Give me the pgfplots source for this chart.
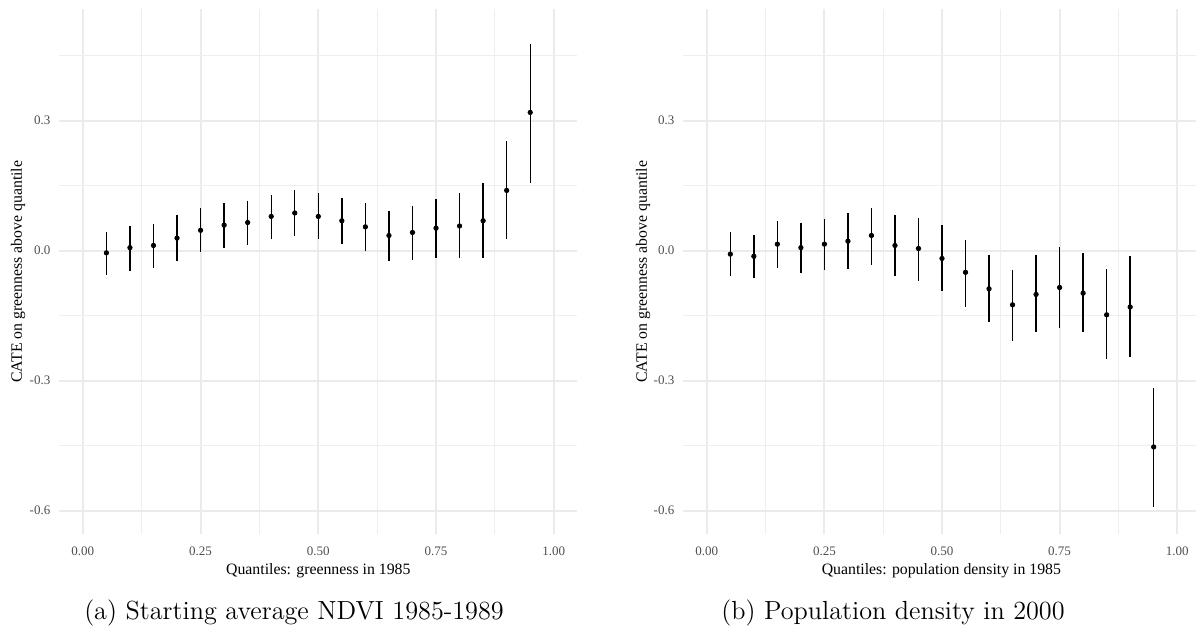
\documentclass[border=0pt]{standalone}
\usepackage{pgfplots}
\usepackage{pgfplotstable}
\usepackage{fontspec}
\pgfplotsset{compat=1.18}
\newfontfamily\ggfont{Liberation Serif}
\definecolor{gridmaj}{HTML}{EBEBEB}
\definecolor{gridmin}{HTML}{EEEEEE}
\definecolor{ticktxt}{HTML}{4D4D4D}

% quantile, estimate, lower and upper bound of the interval
\pgfplotstableread{
q     est     lo      hi
0.05 -0.005  -0.056   0.044
0.10  0.007  -0.046   0.056
0.15  0.012  -0.041   0.062
0.20  0.029  -0.023   0.082
0.25  0.047  -0.003   0.098
0.30  0.059   0.007   0.109
0.35  0.065   0.012   0.114
0.40  0.079   0.027   0.129
0.45  0.087   0.035   0.139
0.50  0.079   0.027   0.132
0.55  0.069   0.015   0.122
0.60  0.055   0.000   0.109
0.65  0.035  -0.023   0.092
0.70  0.042  -0.021   0.102
0.75  0.052  -0.016   0.119
0.80  0.057  -0.018   0.132
0.85  0.069  -0.018   0.156
0.90  0.139   0.027   0.252
0.95  0.319   0.157   0.478
}\ndvitable

\pgfplotstableread{
q     est     lo      hi
0.05 -0.008  -0.058   0.042
0.10 -0.013  -0.063   0.036
0.15  0.015  -0.041   0.069
0.20  0.007  -0.051   0.064
0.25  0.015  -0.045   0.074
0.30  0.022  -0.043   0.086
0.35  0.035  -0.033   0.098
0.40  0.012  -0.058   0.082
0.45  0.005  -0.071   0.076
0.50 -0.018  -0.093   0.059
0.55 -0.050  -0.129   0.024
0.60 -0.088  -0.164  -0.011
0.65 -0.125  -0.208  -0.045
0.70 -0.101  -0.188  -0.011
0.75 -0.085  -0.178   0.009
0.80 -0.098  -0.188  -0.006
0.85 -0.148  -0.251  -0.043
0.90 -0.130  -0.245  -0.013
0.95 -0.453  -0.592  -0.316
}\poptable

\newcommand\ticksize{\ggfont\fontsize{6.5}{7}\selectfont}
\newcommand\titlesize{\ggfont\fontsize{7.9}{9}\selectfont}

\pgfplotsset{
  catepanel/.style={
    scale only axis,
    anchor=south west,
    height=262.5pt,
    ymin=-0.6545, ymax=0.557,
    xmin=-0.05,
    axis line style={draw=none},
    tick style={draw=none},
    major tick length=0pt, minor tick length=0pt,
    xtick={0,0.25,0.5,0.75,1},
    xticklabels={0.00,0.25,0.50,0.75,1.00},
    minor xtick={0.125,0.375,0.625,0.875},
    ytick={-0.6,-0.3,0,0.3},
    yticklabels={-0.6,-0.3,0.0,0.3},
    minor ytick={-0.45,-0.15,0.15,0.45},
    grid=both,
    major grid style={gridmaj, line width=1pt},
    minor grid style={gridmin, line width=0.5pt},
    /pgf/number format/assume math mode=true,
    xticklabel style={font=\ticksize, text=ticktxt, anchor=center, inner sep=0pt, yshift=-8.5pt},
    yticklabel style={font=\ticksize, text=ticktxt, anchor=east, inner sep=0pt, xshift=-4.3pt},
    clip=false,
  },
  cateplot/.style={
    only marks,
    mark=*,
    mark size=1.1pt,
    mark options={black, fill=black},
    error bars/.cd,
      y dir=both, y explicit,
      error mark=none,
      error bar style={black, line width=0.7pt},
  },
}

\begin{document}
\begin{tikzpicture}
\path[use as bounding box] (0pt,0pt) rectangle (598pt,313.5pt);

% (a) greenness quantiles
\begin{axis}[catepanel,
  at={(29.65pt,46.35pt)}, width=259pt, xmax=1.05,
  xlabel={Quantiles: greenness in 1985},
  ylabel={CATE on greenness above quantile},
  every axis x label/.style={at={(axis description cs:0.5,-0.0699)}, anchor=center, font=\titlesize},
  every axis y label/.style={at={(axis description cs:-0.0797,0.5)}, rotate=90, anchor=center, font=\titlesize},
]
\addplot+[cateplot] table[x=q, y=est,
  y error plus expr=\thisrow{hi}-\thisrow{est},
  y error minus expr=\thisrow{est}-\thisrow{lo}] {\ndvitable};
\end{axis}

% (b) population density quantiles
\begin{axis}[catepanel,
  at={(341.65pt,46.35pt)}, width=256.35pt, xmax=1.04,
  xlabel={Quantiles: population density in 1985},
  ylabel={CATE on greenness above quantile},
  every axis x label/.style={at={(axis description cs:0.5034,-0.0699)}, anchor=center, font=\titlesize},
  every axis y label/.style={at={(axis description cs:-0.0786,0.5)}, rotate=90, anchor=center, font=\titlesize},
]
\addplot+[cateplot] table[x=q, y=est,
  y error plus expr=\thisrow{hi}-\thisrow{est},
  y error minus expr=\thisrow{est}-\thisrow{lo}] {\poptable};
\end{axis}

\node[font=\fontsize{13.1}{15}\selectfont, anchor=center] at (147pt,7pt) {(a) Starting average NDVI 1985-1989};
\node[font=\fontsize{13.1}{15}\selectfont, anchor=center] at (446.5pt,7pt) {(b) Population density in 2000};
\end{tikzpicture}
\end{document}
